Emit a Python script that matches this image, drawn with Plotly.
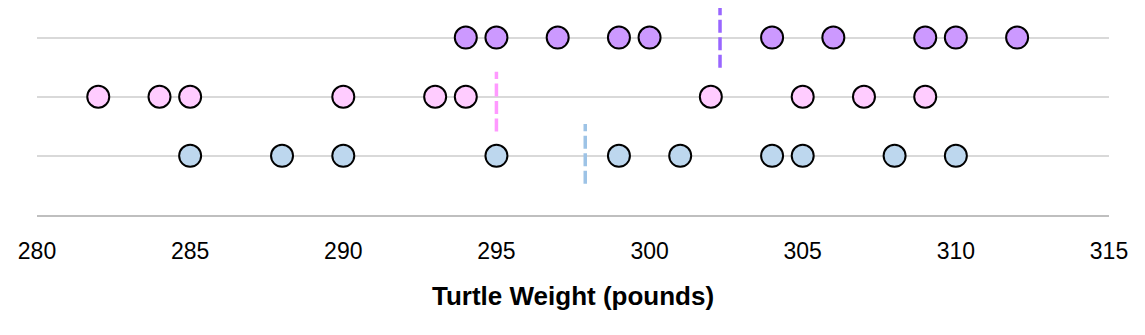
import plotly.graph_objects as go

# Data
purple_weights = [294, 295, 297, 299, 300, 304, 306, 309, 310, 312]
pink_weights = [282, 284, 285, 290, 293, 294, 302, 305, 307, 309]
blue_weights = [285, 288, 290, 295, 299, 301, 304, 305, 308, 310]

purple_mean = 302.3
pink_mean = 295.0
blue_mean = 297.9

x_ticks = [280, 285, 290, 295, 300, 305, 310, 315]
x_title = "Turtle Weight (pounds)"

# row layout (positions / styles)
rows = [
    dict(vals=purple_weights, row=3, fill="#CC99FF", mean=purple_mean, mline="#9966FF", lo=2.49, hi=3.51),
    dict(vals=pink_weights, row=2, fill="#FFCCFF", mean=pink_mean, mline="#FF99FF", lo=1.41, hi=2.42),
    dict(vals=blue_weights, row=1, fill="#BDD7EE", mean=blue_mean, mline="#9DC3E6", lo=0.53, hi=1.54),
]

fig = go.Figure()

for r in rows:
    fig.add_trace(go.Scatter(
        x=[r["mean"], r["mean"]], y=[r["lo"], r["hi"]], mode="lines",
        line=dict(color=r["mline"], width=3.5, dash="13px,4.5px"),
        hoverinfo="skip", showlegend=False,
    ))

for r in rows:
    fig.add_trace(go.Scatter(
        x=r["vals"], y=[r["row"]] * len(r["vals"]), mode="markers",
        marker=dict(size=22, color=r["fill"], line=dict(color="black", width=2)),
        showlegend=False, cliponaxis=False,
    ))

fig.update_layout(
    width=1145, height=335,
    margin=dict(l=37, r=36, t=8, b=120),
    paper_bgcolor="white", plot_bgcolor="white",
    font=dict(family="Liberation Sans", color="black"),
    xaxis=dict(
        range=[280, 315], tickvals=x_ticks, ticktext=[str(t) for t in x_ticks],
        showgrid=False, zeroline=False,
        showline=True, linecolor="#BFBFBF", linewidth=2,
        ticks="", ticklabelstandoff=14,
        tickfont=dict(size=23, family="Liberation Sans", color="black"),
    ),
    yaxis=dict(
        range=[0, 3.5], tickvals=[1, 2, 3], showticklabels=False,
        showgrid=True, gridcolor="#D9D9D9", gridwidth=1.5,
        zeroline=False, showline=False, ticks="",
    ),
    annotations=[dict(
        text="<b>" + x_title + "</b>", x=0.5, xref="paper",
        y=-0.391, yref="paper", yanchor="middle", xanchor="center",
        showarrow=False, font=dict(size=26, family="Liberation Sans", color="black"),
    )],
)

fig.write_html("out.html")
